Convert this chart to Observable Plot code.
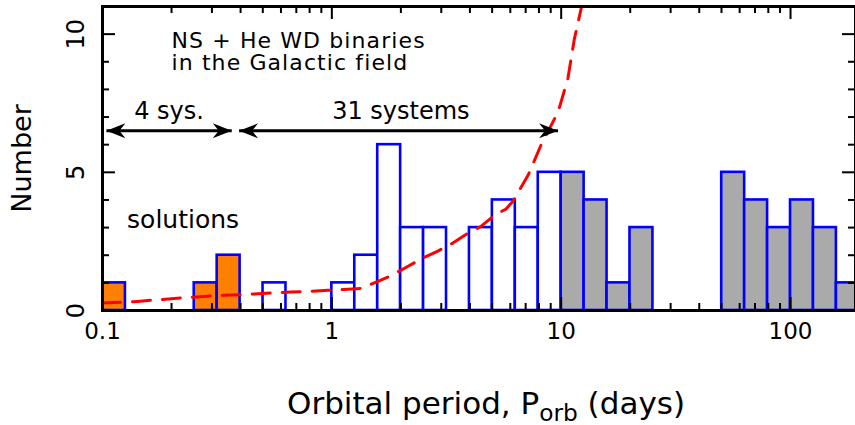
<!DOCTYPE html>
<html><head><meta charset="utf-8">
<script src="https://cdn.jsdelivr.net/npm/d3@7"></script>
<script src="https://cdn.jsdelivr.net/npm/@observablehq/plot@0.6"></script>
<style>body{margin:0;background:#fff;} svg{display:block} g.head text{letter-spacing:1.1px}</style>
</head><body><div id="chart"></div>
<script>
// Histogram bins: lower edge in log10(days), bin width 0.1 dex
const binLogLow = [-1.0, -0.6, -0.5, -0.3, 0.0, 0.1, 0.2, 0.3, 0.4, 0.6, 0.7, 0.8, 0.9, 1.0, 1.1, 1.2, 1.3, 1.7, 1.8, 1.9, 2.0, 2.1, 2.2];
const binCounts = [1, 1, 2, 1, 1, 2, 6, 3, 3, 3, 4, 3, 5, 5, 4, 1, 3, 5, 4, 3, 4, 3, 1];
const binGroup  = ["sol","sol","sol","open","open","open","open","open","open","open","open","open","open",
                   "wide","wide","wide","wide","wide","wide","wide","wide","wide","wide"];
const binWidthDex = 0.1;

// Red dashed curve (days, number)
const curveP = [0.1, 0.124, 0.142, 0.242, 0.337, 0.401, 0.662, 0.794, 0.961, 1.13, 1.34, 1.59, 1.85, 2.15, 2.5, 2.9, 3.37, 3.93, 4.48, 5.2, 5.75, 6.17, 7.18, 8.18, 9.71, 10.7, 11.4, 12.2, 12.6];
const curveN = [0.27, 0.30, 0.33, 0.48, 0.55, 0.57, 0.67, 0.69, 0.73, 0.76, 0.80, 1.05, 1.30, 1.60, 1.90, 2.15, 2.44, 2.80, 3.05, 3.49, 3.67, 3.96, 4.90, 6.00, 7.20, 8.40, 9.80, 10.9, 11.4];

// Range arrows
const arrowFrom = [0.104, 0.394];
const arrowTo   = [0.366, 9.69];
const arrowLevel = 6.5;

// Ticks
const xMajor = [0.1, 1, 10, 100];
const xTickLabels = ["0.1", "1", "10", "100"];
const xMinor = [0.2,0.3,0.4,0.5,0.6,0.7,0.8,0.9, 2,3,4,5,6,7,8,9, 20,30,40,50,60,70,80,90];
const yMajor = [0, 5, 10];
const yTickLabels = ["0", "5", "10"];
const yMinor = [1,2,3,4,6,7,8,9];

// Annotations
const headText = "NS + He WD binaries\nin the Galactic field";
const headPos = {x: 0.2, y: 8.7};
const leftLabel = "4 sys.";   const leftLabelPos = {x: 0.195, y: 6.94};
const rightLabel = "31 systems"; const rightLabelPos = {x: 2.0, y: 6.94};
const solText = "solutions"; const solPos = {x: 0.128, y: 3.0};

const colors = {sol: "#ff8000", open: "#ffffff", wide: "#aaaaaa"};
const FONT = "DejaVu Sans";

const W = 855, H = 425, ML = 102, MR = 0, MT = 6, MB = 115;
const FW = W - ML - MR, FH = H - MT - MB;
const XD = [0.1, 192], YD = [0, 11];
const MAJ = 13, MIN = 7;
// tick lengths converted from pixels into scale units
const pxPerY = FH / (YD[1] - YD[0]);
const pxPerDec = FW / Math.log10(XD[1] / XD[0]);
const yLen = px => px / pxPerY;
const xFac = px => 10 ** (px / pxPerDec);

function stealth(color) {
  const m = d3.create("svg:marker")
    .attr("viewBox", "-20 -8 22 16")
    .attr("markerWidth", 22).attr("markerHeight", 16)
    .attr("markerUnits", "userSpaceOnUse")
    .attr("refX", 0).attr("refY", 0)
    .attr("orient", "auto-start-reverse")
    .attr("fill", color).attr("stroke", "none");
  m.append("path").attr("d", "M0,0L-19,-7.5L-13,0L-19,7.5Z");
  return m.node();
}

const idx = d3.range(binLogLow.length);
const cidx = d3.range(curveP.length);
const aidx = d3.range(arrowFrom.length);
const tk = {stroke: "#000", strokeWidth: 2};

const chart = Plot.plot({
  width: W, height: H,
  marginLeft: ML, marginRight: MR, marginTop: MT, marginBottom: MB,
  style: {fontFamily: FONT, background: "#fff", color: "#000"},
  x: {type: "log", domain: XD, axis: null},
  y: {domain: YD, axis: null},
  color: {domain: Object.keys(colors), range: Object.values(colors)},
  marks: [
    Plot.rectY(idx, {
      x1: i => 10 ** binLogLow[i], x2: i => 10 ** (binLogLow[i] + binWidthDex),
      y1: 0, y2: i => binCounts[i], fill: i => binGroup[i],
      stroke: "#0000ff", strokeWidth: 2.6, clip: true
    }),
    Plot.line(cidx, {x: i => curveP[i], y: i => curveN[i], stroke: "#ff0000", strokeWidth: 3,
      strokeDasharray: "18,12", clip: true}),
    Plot.link(aidx, {x1: i => arrowFrom[i], x2: i => arrowTo[i], y1: () => arrowLevel, y2: () => arrowLevel,
      stroke: "#000", strokeWidth: 3, markerStart: stealth, markerEnd: stealth}),
    Plot.text([headText], {x: () => headPos.x, y: () => headPos.y, textAnchor: "start", lineAnchor: "bottom",
      lineHeight: 1.01, fontSize: 22, className: "head"}),
    Plot.text([leftLabel], {x: () => leftLabelPos.x, y: () => leftLabelPos.y, lineAnchor: "bottom", fontSize: 24}),
    Plot.text([rightLabel], {x: () => rightLabelPos.x, y: () => rightLabelPos.y, lineAnchor: "bottom", fontSize: 24}),
    Plot.text([solText], {x: () => solPos.x, y: () => solPos.y, textAnchor: "start", lineAnchor: "bottom", fontSize: 25}),
    // inward ticks (bottom, top, left, right)
    Plot.ruleX(xMajor, {x: d => d, y1: () => YD[0], y2: () => YD[0] + yLen(MAJ), ...tk}),
    Plot.ruleX(xMinor, {x: d => d, y1: () => YD[0], y2: () => YD[0] + yLen(MIN), ...tk}),
    Plot.ruleX(xMajor, {x: d => d, y1: () => YD[1], y2: () => YD[1] - yLen(MAJ), ...tk}),
    Plot.ruleX(xMinor, {x: d => d, y1: () => YD[1], y2: () => YD[1] - yLen(MIN), ...tk}),
    Plot.ruleY(yMajor, {y: d => d, x1: () => XD[0], x2: () => XD[0] * xFac(MAJ), ...tk}),
    Plot.ruleY(yMinor, {y: d => d, x1: () => XD[0], x2: () => XD[0] * xFac(MIN), ...tk}),
    Plot.ruleY(yMajor, {y: d => d, x1: () => XD[1], x2: () => XD[1] / xFac(MAJ), ...tk}),
    Plot.ruleY(yMinor, {y: d => d, x1: () => XD[1], x2: () => XD[1] / xFac(MIN), ...tk}),
    Plot.frame({stroke: "#000", strokeWidth: 3}),
    // tick labels and axis titles
    Plot.text(xMajor, {x: d => d, text: (d, i) => xTickLabels[i], frameAnchor: "bottom", dy: 21,
      lineAnchor: "middle", fontSize: 23}),
    Plot.text(yMajor, {y: d => d, text: (d, i) => yTickLabels[i], frameAnchor: "left", dx: -26, rotate: -90,
      textAnchor: "middle", lineAnchor: "middle", fontSize: 24}),
    Plot.text(["Number"], {frameAnchor: "left", dx: -80, rotate: -90, textAnchor: "middle", lineAnchor: "middle", fontSize: 27}),
    Plot.text(["Orbital period, Porb (days)"], {frameAnchor: "bottom", dx: 7, dy: 103, lineAnchor: "bottom",
      textAnchor: "middle", fontSize: 31, className: "xtitle"})
  ]
});

// subscript in x title
const t = chart.querySelector("g.xtitle text");
if (t) {
  t.textContent = "";
  const s = d3.select(t);
  s.append("tspan").text("Orbital period, P");
  s.append("tspan").attr("dy", 7).attr("font-size", "0.75em").text("orb");
  s.append("tspan").attr("dy", -7).text(" (days)");
}
document.getElementById("chart").append(chart);
</script>
</body></html>
